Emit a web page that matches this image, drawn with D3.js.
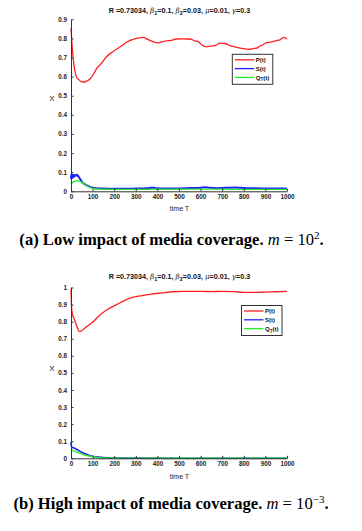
<!DOCTYPE html>
<html><head><meta charset="utf-8">
<script src="https://cdn.jsdelivr.net/npm/d3@7"></script>
<style>body{margin:0;background:#fff}svg{display:block}</style>
</head><body>
<svg id="c" width="362" height="531"></svg>
<script>
// ---- data ----
const xTicks = [0,100,200,300,400,500,600,700,800,900,1000];
const yTicksA = [0,0.1,0.2,0.3,0.4,0.5,0.6,0.7,0.8,0.9];
const yTicksB = [0,0.1,0.2,0.3,0.4,0.5,0.6,0.7,0.8,0.9,1];
const legendNames = ["P(t)","S(t)","Q_T(t)"];
// title pieces: [text, kind] kind: n normal, g greek, s subscript
const titleParts = [["R =0.73034,  ","n"],["β","g"],["1","s"],["=0.1, ","n"],["β","g"],["2","s"],["=0.03, ","n"],["μ","g"],["=0.01, ","n"],["γ","g"],["=0.3","n"]];

// panel (a) m = 10^2
const tPA = [0,3,8,15,25,37,50,60,75,90,105,120,140,165,190,211,235,257,280,303,320,335,355,380,403,420,441,465,488,510,534,551,572,590,602,615,628,645,665,690,718,736,749,765,780,800,821,845,864,875,890,903,921,940,955,968,980,991,1000];
const pA  = [0.853,0.80,0.72,0.65,0.60,0.583,0.573,0.572,0.578,0.59,0.615,0.644,0.668,0.705,0.728,0.743,0.762,0.78,0.792,0.80,0.803,0.805,0.795,0.783,0.777,0.782,0.787,0.79,0.797,0.798,0.797,0.797,0.787,0.783,0.769,0.76,0.757,0.76,0.762,0.775,0.772,0.762,0.758,0.754,0.75,0.746,0.743,0.747,0.751,0.76,0.767,0.777,0.78,0.784,0.79,0.792,0.803,0.804,0.797];
const tSA = [0,2,4,6,8,10,12,14,17,20,24,28,32,36,40,45,50,60,70,80,90,100,120,150,200,250,300,350,370,380,395,420,450,500,550,600,620,640,680,700,730,760,780,800,830,860,900,930,960,990,1000];
const sA  = [0.065,0.09,0.068,0.086,0.072,0.087,0.076,0.084,0.078,0.085,0.083,0.086,0.08,0.076,0.068,0.06,0.05,0.04,0.033,0.027,0.022,0.019,0.016,0.014,0.013,0.013,0.014,0.016,0.018,0.019,0.016,0.015,0.014,0.015,0.017,0.019,0.021,0.018,0.016,0.017,0.019,0.02,0.019,0.017,0.016,0.016,0.014,0.015,0.014,0.015,0.013];
const tQA = [0,5,10,20,30,40,50,60,70,80,90,100,120,150,200,300,400,500,600,700,800,900,1000];
const qA  = [0.04,0.043,0.048,0.053,0.055,0.053,0.047,0.04,0.032,0.025,0.019,0.015,0.012,0.011,0.01,0.01,0.011,0.011,0.011,0.011,0.01,0.01,0.01];

// panel (b) m = 10^-3
const tPB = [0,2,5,10,18,28,38,50,70,103,130,165,211,250,288,330,365,420,474,520,597,650,700,751,800,850,900,950,1000];
const pB  = [0.99,0.9,0.855,0.83,0.805,0.77,0.742,0.748,0.768,0.80,0.835,0.868,0.90,0.925,0.943,0.953,0.96,0.968,0.975,0.977,0.977,0.976,0.977,0.976,0.971,0.971,0.973,0.975,0.977];
const tSB = [0,2,4,8,14,20,30,40,50,65,80,100,125,150,200,300,500,1000];
const sB  = [0.095,0.07,0.065,0.063,0.06,0.057,0.05,0.042,0.035,0.026,0.019,0.012,0.007,0.004,0.002,0.001,0.0005,0.0005];
const tQB = [0,5,10,25,40,60,90,120,160,200,300,1000];
const qB  = [0.05,0.048,0.045,0.038,0.03,0.02,0.012,0.006,0.002,0.001,0.0005,0.0005];

const colors = ["#ff1f1f","#1f1fff","#22ee22"];

const svg = d3.select("#c");
const tickFont = "'Liberation Sans', Arial, sans-serif";

function panel(cfg){
  const x = d3.scaleLinear().domain([0,1000]).range([71,287]);
  const y = d3.scaleLinear().domain(cfg.yDomain).range(cfg.yRange);
  const g = svg.append("g");

  // title
  const tt = g.append("text").attr("x",179.5).attr("y",cfg.titleY)
    .attr("text-anchor","middle").attr("font-family",tickFont)
    .attr("font-size",7.2).attr("font-weight","bold").attr("fill","#111");
  let prevSub = false;
  titleParts.forEach(([s,k])=>{
    const ts = tt.append("tspan").text(s);
    if (k==="g") ts.attr("font-style","italic").attr("font-weight","normal").attr("font-family","'DejaVu Serif', serif");
    if (k==="s") { ts.attr("dy",2).attr("font-size",5.5); prevSub = true; }
    else if (prevSub) { ts.attr("dy",-2); prevSub = false; }
  });

  // lines
  const series = [[cfg.tP,cfg.p,1.3],[cfg.tS,cfg.s,cfg.sw],[cfg.tQ,cfg.q,1.3]];
  series.forEach((sr,i)=>{
    const pts = sr[0].map((t,j)=>[t,sr[1][j]]);
    g.append("path").datum(pts)
      .attr("d", d3.line().x(d=>x(d[0])).y(d=>y(d[1])).curve(d3.curveMonotoneX))
      .attr("fill","none").attr("stroke",colors[i]).attr("stroke-width",sr[2])
      .attr("stroke-linejoin","round");
  });

  // axes
  const xa = g.append("g").attr("transform",`translate(0,${cfg.yRange[0]})`)
    .call(d3.axisBottom(x).tickValues(xTicks).tickSizeInner(-2.5).tickSizeOuter(0).tickPadding(3).tickFormat(d3.format("d")));
  const ya = g.append("g").attr("transform",`translate(71,0)`)
    .call(d3.axisLeft(y).tickValues(cfg.yTicks).tickSizeInner(-2.5).tickSizeOuter(0).tickPadding(4).tickFormat(d=>d===0?"0":String(+d.toFixed(1))));
  [xa,ya].forEach(a=>{
    a.selectAll("path,line").attr("stroke","#333").attr("stroke-width",1);
    a.selectAll("text").attr("font-family",tickFont).attr("font-size",6.3)
      .attr("font-weight","bold").attr("fill","#222");
  });

  // labels
  g.append("text").attr("x",179.5).attr("y",cfg.xLabY).attr("text-anchor","middle")
    .attr("font-family",tickFont).attr("font-size",7).attr("fill","#222").text("time T");
  g.append("text").attr("x",52).attr("y",cfg.yLabY).attr("text-anchor","middle")
    .attr("font-family",tickFont).attr("font-size",8).attr("fill","#222").text("X");

  // legend
  const L = cfg.leg;
  g.append("rect").attr("x",L.x).attr("y",L.y).attr("width",40.5).attr("height",30)
    .attr("fill","#fff").attr("stroke","#333").attr("stroke-width",1);
  legendNames.forEach((n,i)=>{
    const yy = L.y + 5.5 + i*8.8;
    g.append("line").attr("x1",L.x+2.5).attr("x2",L.x+22).attr("y1",yy).attr("y2",yy)
      .attr("stroke",colors[i]).attr("stroke-width",1.3);
    const tx = g.append("text").attr("x",L.x+23.5).attr("y",yy+2.2)
      .attr("font-family",tickFont).attr("font-size",6).attr("font-weight","bold").attr("fill","#111");
    if (n.includes("_")) {
      tx.append("tspan").text("Q");
      tx.append("tspan").attr("dy",1.8).attr("font-size",4.5).text("T");
      tx.append("tspan").attr("dy",-1.8).text("(t)");
    } else tx.text(n);
  });

  // caption
  const cap = g.append("text").attr("x",cfg.capX).attr("y",cfg.capY).attr("text-anchor","middle")
    .attr("font-family","'Liberation Serif','Times New Roman',serif").attr("font-size",16.6)
    .attr("font-weight","bold").attr("fill","#000");
  cap.append("tspan").text(cfg.capText + " ");
  cap.append("tspan").attr("font-style","italic").attr("font-weight","normal").text("m");
  cap.append("tspan").attr("font-weight","normal").text(" = 10");
  cap.append("tspan").attr("font-weight","normal").attr("font-size",11).attr("dy",-6).text(cfg.capExp);
  cap.append("tspan").attr("dy",6).text(".");
}

panel({yDomain:[0,0.9], yRange:[191.3,19.3], yTicks:yTicksA, titleY:12.5,
  tP:tPA,p:pA,tS:tSA,s:sA,tQ:tQA,q:qA, sw:2,
  xLabY:210.5, yLabY:101, leg:{x:232.3,y:54.3},
  capText:"(a) Low impact of media coverage.", capExp:"2", capX:171.5, capY:244.5});
panel({yDomain:[0,1], yRange:[458.3,287.5], yTicks:yTicksB, titleY:279,
  tP:tPB,p:pB,tS:tSB,s:sB,tQ:tQB,q:qB, sw:1.6,
  xLabY:478.5, yLabY:371, leg:{x:241.5,y:305.5},
  capText:"(b) High impact of media coverage.", capExp:"−3", capX:171, capY:508.5});
</script>
</body></html>
